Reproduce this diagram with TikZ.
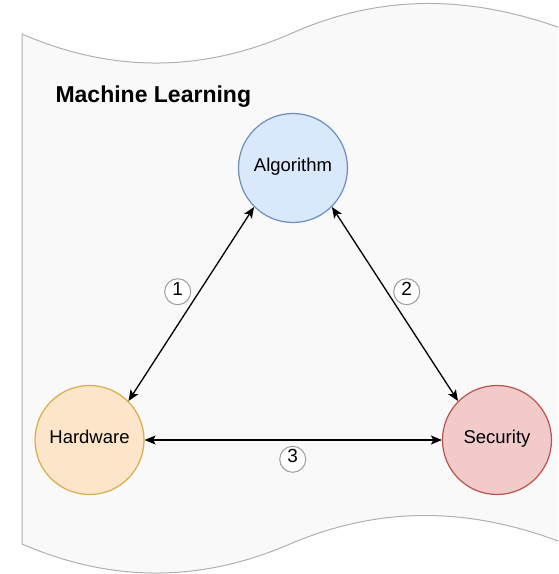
\documentclass[tikz,border=0pt]{standalone}
\usepackage{fontspec}
\setmainfont{Liberation Sans}
\usetikzlibrary{arrows.meta}

\definecolor{tapefill}{HTML}{F9F9F9}
\definecolor{tapeline}{HTML}{B0B0B0}
\definecolor{algfill}{HTML}{DAE8FC}
\definecolor{algline}{HTML}{6C8EBF}
\definecolor{hwfill}{HTML}{FDE5C9}
\definecolor{hwline}{HTML}{D6AE4E}
\definecolor{secfill}{HTML}{F2CACA}
\definecolor{secline}{HTML}{B85450}
\definecolor{tagline}{HTML}{9E9E9E}

\tikzset{
  topic/.style={circle, minimum size=109pt, inner sep=0pt, line width=1.2pt,
    font=\fontsize{18.5}{20}\selectfont, text height=0.72em, text depth=0pt},
  tag/.style={circle, draw=tagline, fill=white, line width=1pt,
    minimum size=26pt, inner sep=0pt,
    font=\fontsize{19}{21}\selectfont, text height=0.72em, text depth=0pt},
  link/.style={line width=1.3pt, black,
    {Stealth[length=11pt,width=9pt,inset=2.5pt]}-{Stealth[length=11pt,width=9pt,inset=2.5pt]}},
}

\begin{document}
\begin{tikzpicture}[x=1pt, y=-1pt]
\useasboundingbox (0,0) rectangle (558,574);
\clip (0,0) rectangle (558,574);

% wavy tape background
\draw[fill=tapefill, draw=tapeline, line width=1pt]
  (22,34) .. controls (111.3,72.7) and (200.7,72.7) .. (290,34)
          .. controls (379.3,-6) and (468.7,-6) .. (566,30)
  -- (566,544)
          .. controls (468.7,506) and (379.3,506) .. (290,544)
          .. controls (200.7,582.7) and (111.3,582.7) .. (22,544)
  -- cycle;

\node[anchor=base west, font=\fontsize{23}{26}\selectfont\bfseries] (title) at (52,102) {Machine Learning};

% the three topics
\node[topic, fill=algfill, draw=algline] (alg) at (293,168) {Algorithm};
\node[topic, fill=hwfill, draw=hwline] (hw) at (89.5,440) {Hardware};
\node[topic, fill=secfill, draw=secline] (sec) at (497,440) {Security};

% links between topics
\draw[link] (alg.south west) -- (hw.north east);
\draw[link] (alg.south east) -- (sec.north west);
\draw[link] (hw.east) -- (sec.west);

% numbered tags
\node[tag] (t1) at (177.7,291.7) {1};
\node[tag] (t2) at (406.7,291.7) {2};
\node[tag] (t3) at (292.7,459.3) {3};
\end{tikzpicture}
\end{document}
